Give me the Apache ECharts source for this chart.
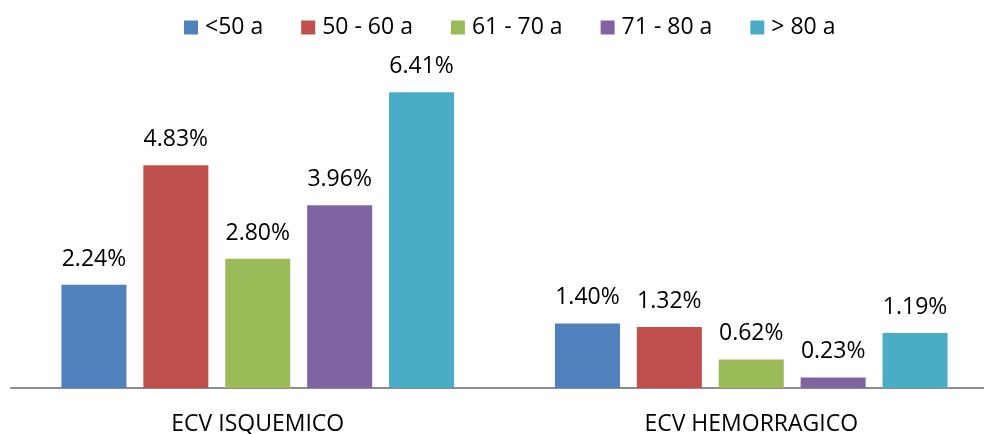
<!DOCTYPE html>
<html>
<head>
<meta charset="utf-8">
<script src="https://cdn.jsdelivr.net/npm/echarts@6/dist/echarts.min.js"></script>
<style>
  html, body { margin: 0; padding: 0; background: #fff; }
  #chart { width: 984px; height: 434px; }
</style>
</head>
<body>
<div id="chart"></div>
<script>
// Stroke type groups on the x axis
const categories = ['ECV ISQUEMICO', 'ECV HEMORRAGICO'];

// Age bands, one series each (percent)
const ageGroups = ['<50 a', '50 - 60 a', '61 - 70 a', '71 - 80 a', '> 80 a'];
const under50 = [2.24, 1.40];
const from50to60 = [4.83, 1.32];
const from61to70 = [2.80, 0.62];
const from71to80 = [3.96, 0.23];
const over80 = [6.41, 1.19];

const seriesValues = [under50, from50to60, from61to70, from71to80, over80];
const colors = ['#4f81bd', '#c0504d', '#9bbb59', '#8064a2', '#4bacc6'];

const FONT = 'Open Sans';

const chart = echarts.init(document.getElementById('chart'));
chart.setOption({
  animation: false,
  textStyle: { fontFamily: FONT },
  legend: {
    top: 11,
    left: 179,
    icon: 'rect',
    itemWidth: 14,
    itemHeight: 14,
    itemGap: 38,
    textStyle: { fontFamily: FONT, fontSize: 23, color: '#000', padding: [0, 0, 0, 2] },
    data: ageGroups
  },
  // plot runs a little past the right edge so the groups sit centred on 258 / 751
  grid: {
    left: 11, right: -14, top: 65, bottom: 46,
    containLabel: false,
    outerBoundsMode: 'none'
  },
  xAxis: {
    type: 'category',
    data: categories,
    axisLine: { lineStyle: { color: '#8c8c8c', width: 2 } },
    axisTick: { show: false },
    axisLabel: { fontFamily: FONT, fontSize: 23, color: '#000', margin: 25 }
  },
  yAxis: {
    type: 'value',
    min: 0,
    max: 7,
    show: false,
    splitLine: { show: false }
  },
  series: ageGroups.map((name, i) => ({
    name,
    type: 'bar',
    data: seriesValues[i],
    barWidth: 65,
    barGap: '26%',
    itemStyle: { color: colors[i] },
    label: {
      show: true,
      position: 'top',
      distance: 14,
      fontFamily: FONT,
      fontSize: 23,
      color: '#000',
      formatter: p => p.value.toFixed(2) + '%'
    }
  }))
});
</script>
</body>
</html>
